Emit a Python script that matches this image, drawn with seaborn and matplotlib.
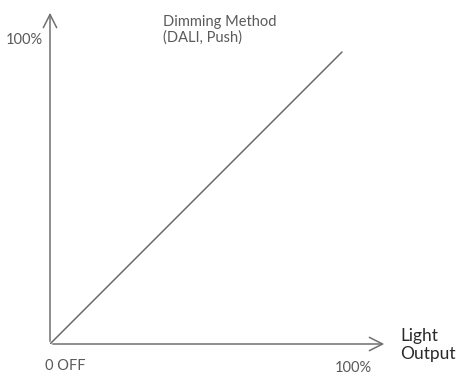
import seaborn as sns
import matplotlib.pyplot as plt
import pandas as pd

# data for the dimming curve (light output vs control signal, in %)
signal = [0, 100]
output = [0, 100]
x_labels = ["0 OFF", "100%"]
y_label = "100%"
curve_label = "Dimming Method\n(DALI, Push)"
x_title = "Light\nOutput"

sns.set_style("white")
plt.rcParams["font.family"] = ["Lato", "DejaVu Sans"]

W, H = 458, 376
fig = plt.figure(figsize=(W / 100, H / 100), dpi=100)
# axes placed so that origin is at pixel (50, 344) and 1 unit = 2.92 px
ox, oy, k = 50, 344, 2.92
xmax = (400 - ox) / k
ymax = (oy - 5) / k
ax = fig.add_axes([ox / W, (H - oy) / H, (400 - ox) / W, (oy - 5) / H])
ax.set_xlim(0, xmax)
ax.set_ylim(0, ymax)
ax.axis("off")

df = pd.DataFrame({"signal": signal, "output": output})
sns.lineplot(data=df, x="signal", y="output", ax=ax, color="#6b6b6b", lw=1.1)

gray = "#707070"
tx = (387 - ox) / k
ty = (oy - 10) / k
head = "->,head_length=0.95,head_width=0.48"
ax.annotate("", xy=(tx, 0), xytext=(0, 0),
            arrowprops=dict(arrowstyle=head, color=gray, lw=1.1),
            annotation_clip=False)
ax.annotate("", xy=(0, ty), xytext=(0, 0),
            arrowprops=dict(arrowstyle=head, color=gray, lw=1.1),
            annotation_clip=False)

tc = "#5a5a5a"
fs = 10.5
ax.text(-5 / k, -22 / k, x_labels[0], ha="left", va="center", fontsize=fs, color=tc)
ax.text((353 - ox) / k, -24 / k, x_labels[1], ha="center", va="center", fontsize=fs,
        color=tc)
ax.text(-7 / k, (oy - 40) / k, y_label, ha="right", va="center", fontsize=fs, color=tc)
ax.text((163 - ox) / k, (oy - 30) / k, curve_label, ha="left", va="center",
        fontsize=fs, color=tc, linespacing=1.15)
ax.text((400 - ox) / k, (oy - 345) / k, x_title, ha="left", va="center",
        fontsize=12.5, color="#2a2a2a", linespacing=1.15)

fig.savefig("out.png", dpi=100)
